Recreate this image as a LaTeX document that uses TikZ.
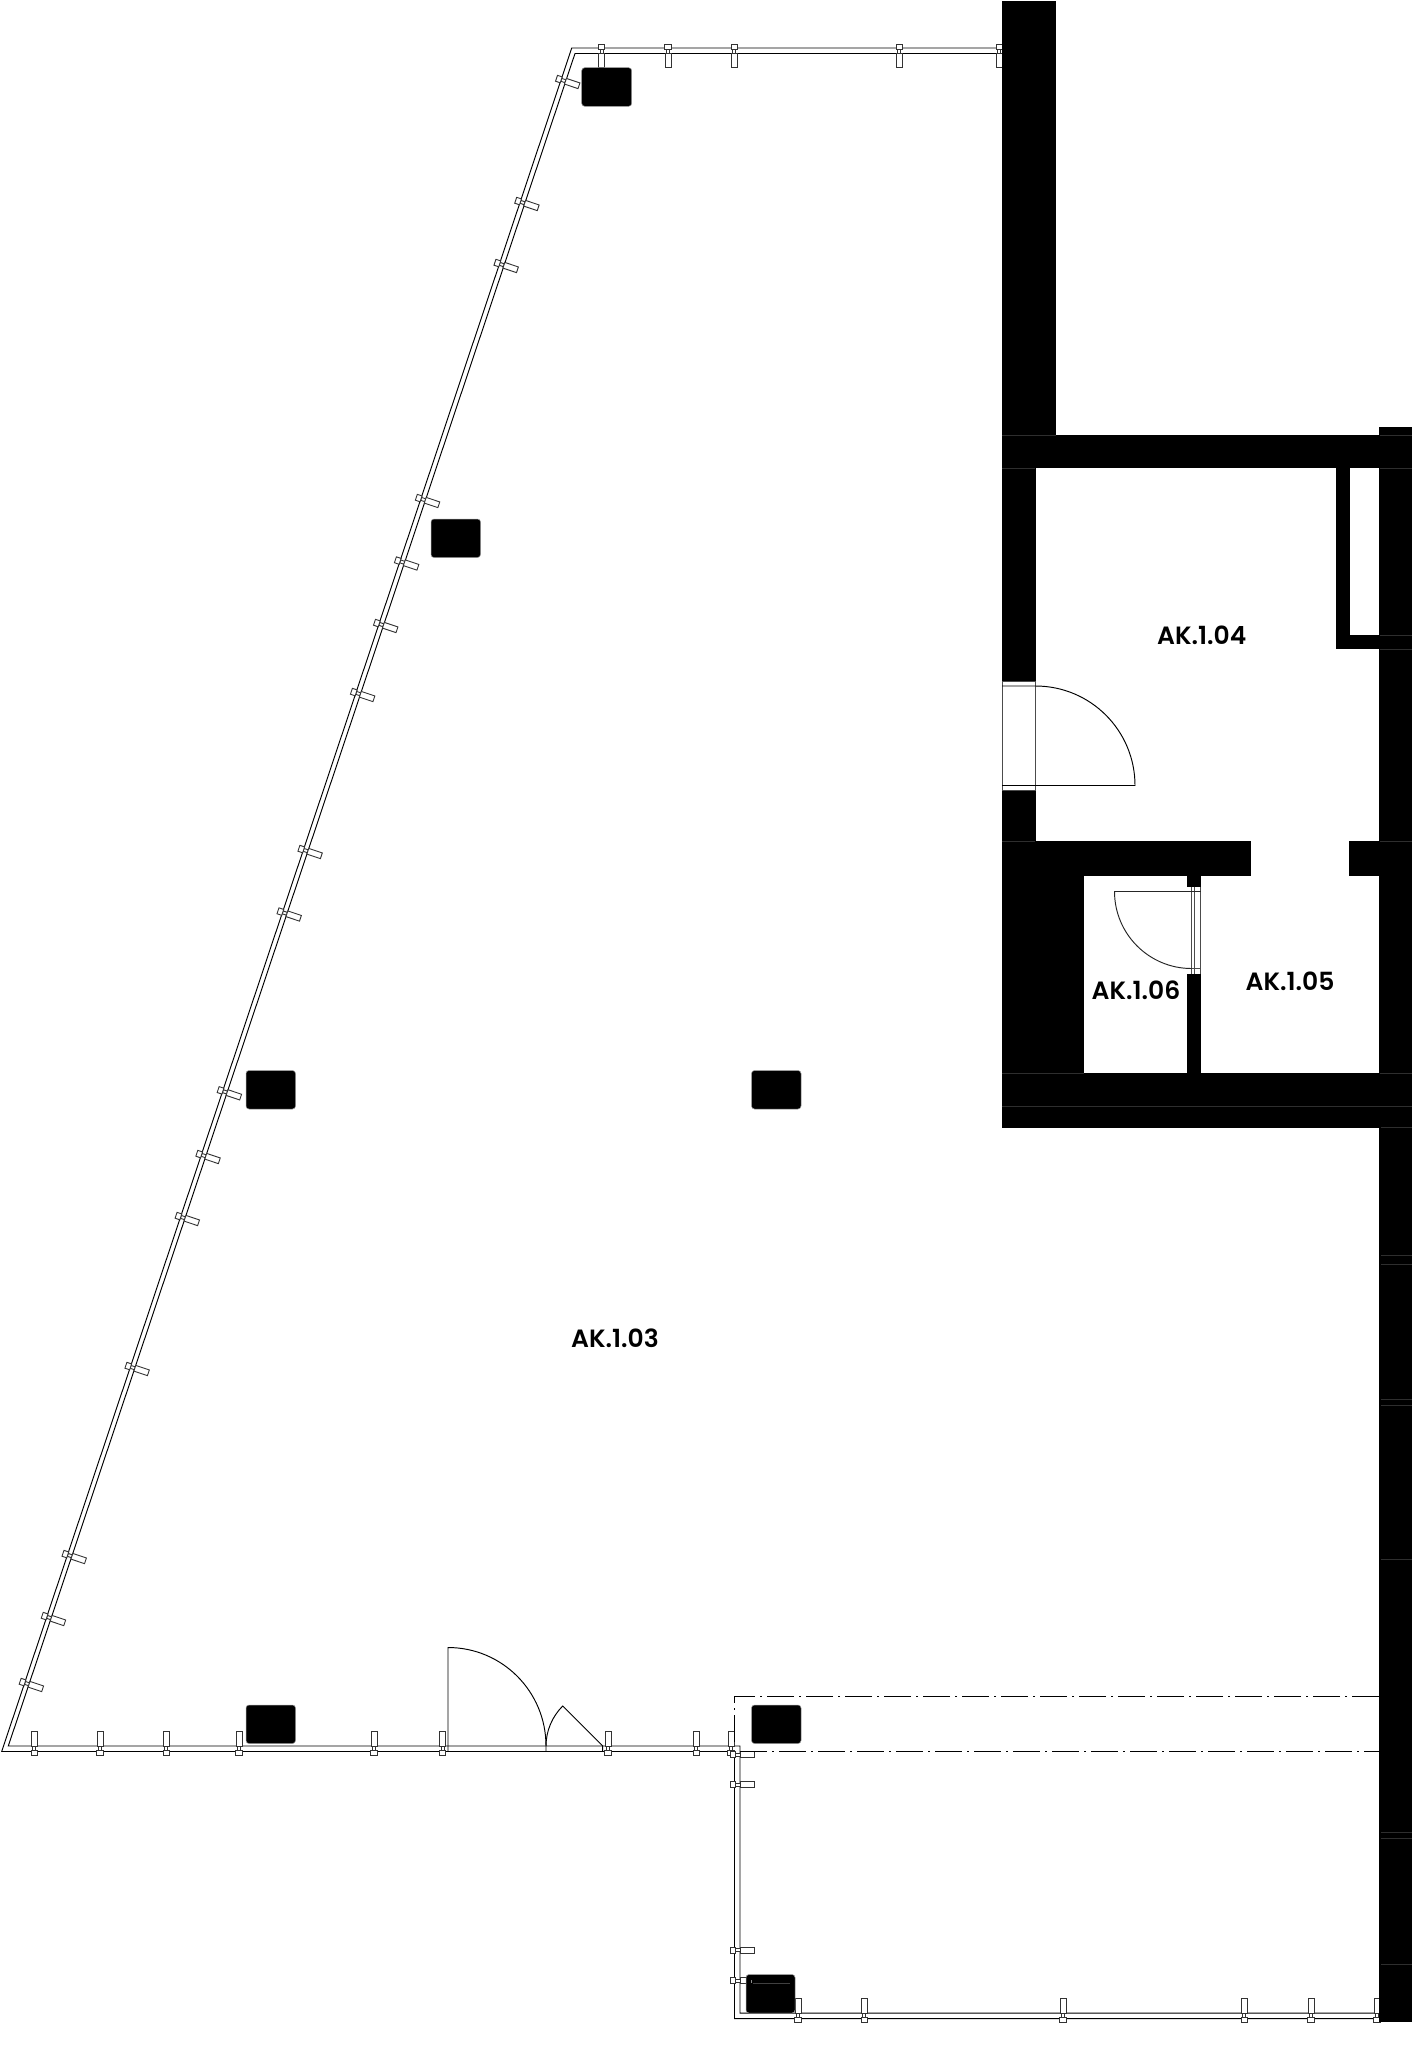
\documentclass[tikz,border=0pt]{standalone}
\usepackage{fontspec}
\setmainfont{Poppins}[BoldFont={Poppins SemiBold}]
\tikzset{
  thinline/.style={line width=0.95pt,black},
  wall/.style={fill=black,draw=none},
  seam/.style={line width=0.8pt,draw=black!82},
  columnblock/.style={fill=black,draw=black!40,line width=0.5pt,rounded corners=3pt},
  dashdotline/.style={line width=1pt,black,dash pattern=on 27pt off 5pt on 2pt off 5pt},
  roomlabel/.style={font=\fontsize{25}{30}\selectfont\bfseries,inner sep=0pt,text=black},
  mullline/.style={line width=0.9pt,draw=black!80,fill=white},
  mullion/.pic={
    \draw[mullline] (1,-1.5) rectangle (5.4,1.5);
    \draw[mullline] (-4,-3.1) rectangle (1,3.1);
    \draw[mullline] (5.4,-3) rectangle (19.7,3);
  }
}
\begin{document}
\begin{tikzpicture}[x=1pt,y=-1pt]
\useasboundingbox (0,0) rectangle (1425,2047);
\fill[white] (0,0) rectangle (1425,2047);

% glazing lines
\draw[thinline,line join=miter] (1002,48) -- (571.7,48) -- (1.7,1751.5) -- (734.5,1751.5) -- (734.5,2018.5) -- (1379,2018.5);
\draw[thinline,line join=miter] (1002,53.5) -- (575,53.5) -- (8.3,1746) -- (740,1746) -- (740,2013) -- (1379,2013);

% mullions
\foreach \x in {601.7,668,734.3,899.3,999.3}
  \pic[rotate=-90] at (\x,48) {mullion};
\foreach \x in {34.3,100,166.3,239,374,442.7,608,696.3,731}
  \pic[rotate=90] at (\x,1751.5) {mullion};
\foreach \x in {798,864.3,1063,1244.3,1311,1377}
  \pic[rotate=90] at (\x,2018.5) {mullion};
\foreach \y in {1754.7,1784.7,1950.3,1980.7}
  \pic at (734.8,\y) {mullion};
\foreach \y in {83.5,205.5,267.5,502.5,565,627.5,696.5,853.5,916,1094.8,1158.5,1220.5,1370.5,1558.5,1620.5,1686.5}
  \pic[rotate=-18.5] at ({573-0.3346*(\y-81)-11.85},{\y-3.96}) {mullion};

% main door
\draw[thinline] (448,1751) -- (448,1647.5) .. controls (502.1,1647.5) and (546,1691.4) .. (546,1746) -- (546,1751);
\draw[thinline] (546,1746) .. controls (546,1731) and (552.1,1716.6) .. (562.7,1706) -- (602.7,1746) -- (602.7,1751);

% dash-dot outline
\draw[dashdotline] (1379,1696.5) -- (734.5,1696.5) -- (734.5,1745);
\draw[dashdotline] (740,1751.5) -- (1379,1751.5);

% columns
\fill[columnblock] (581.7,67.7) rectangle (631.7,106.3);
\fill[columnblock] (431,519) rectangle (480.5,557.5);
\fill[columnblock] (246,1070.5) rectangle (295.5,1109);
\fill[columnblock] (751.5,1070.5) rectangle (801,1109);
\fill[columnblock] (246,1705) rectangle (295.5,1743.5);
\fill[columnblock] (751.5,1705) rectangle (801,1743.5);
\fill[columnblock] (746,1974.5) rectangle (795,2013);
\draw[line width=0.7pt,black!75] (753,1983) -- (790,1983);
\draw[line width=1pt,black!45] (751.5,1980) -- (751.5,1983);

% walls
\fill[wall] (1001.7,1) rectangle (1056,435);
\fill[wall] (1001.7,435) rectangle (1412,468.3);
\fill[wall] (1379,426.7) rectangle (1412,1128);
\fill[wall] (1001.7,468) rectangle (1035.7,681);
\fill[wall] (1001.7,790) rectangle (1035.7,842);
\fill[wall] (1001.7,841) rectangle (1250.7,875.5);
\fill[wall] (1348.7,841) rectangle (1412,875.5);
\fill[wall] (1336,468) rectangle (1350,649.3);
\fill[wall] (1336,634.7) rectangle (1380,649.3);
\fill[wall] (1001.7,875) rectangle (1084,1074);
\fill[wall] (1187.3,875) rectangle (1201.3,887.3);
\fill[wall] (1187.3,974) rectangle (1201.3,1074);
\fill[wall] (1001.7,1073.3) rectangle (1412,1127.7);
\fill[wall] (1379.3,1127) rectangle (1412,2021.7);

% seams in the walls
\draw[seam] (1002,435) -- (1056,435);
\draw[seam] (1002,468) -- (1035,468);
\draw[seam] (1380,435) -- (1412,435);
\draw[seam] (1380,468) -- (1412,468);
\draw[seam] (1380,635) -- (1412,635);
\draw[seam] (1380,649) -- (1412,649);
\draw[seam] (1002,841) -- (1035,841);
\draw[seam] (1380,841) -- (1412,841);
\draw[seam] (1002,1073.5) -- (1084,1073.5);
\draw[seam] (1380,1073.5) -- (1412,1073.5);
\draw[seam] (1002,1106) -- (1412,1106);
\foreach \y in {1127.7,1255,1264.5,1399.5,1405.5,1559,1832.5,1838.5,1964}
  \draw[seam] (1380.5,\y) -- (1412,\y);

% door of AK.1.04
\draw[thinline,black!70] (1002,681) rectangle (1035,790);
\draw[thinline] (1002,686) -- (1035.5,686) .. controls (1090.5,686) and (1135,730.5) .. (1135,785.5) -- (1002,785.5);

% door of AK.1.06
\draw[thinline,black!70] (1191.5,887.3) -- (1191.5,974);
\draw[thinline,black!70] (1194,887.3) -- (1194,974);
\draw[thinline,black!70] (1200.8,887.3) -- (1200.8,974);
\draw[thinline,black!70] (1191.5,968.5) -- (1200.8,968.5);
\draw[thinline,black!85] (1200.8,891.5) -- (1114.5,891.5) .. controls (1114.5,934) and (1149,968.5) .. (1191.5,968.5);

% labels
\node[roomlabel] (ak103) at (615,1338) {AK.1.03};
\node[roomlabel] (ak104) at (1201.7,635) {AK.1.04};
\node[roomlabel] (ak105) at (1290,981) {AK.1.05};
\node[roomlabel] (ak106) at (1136,990) {AK.1.06};
\end{tikzpicture}
\end{document}
